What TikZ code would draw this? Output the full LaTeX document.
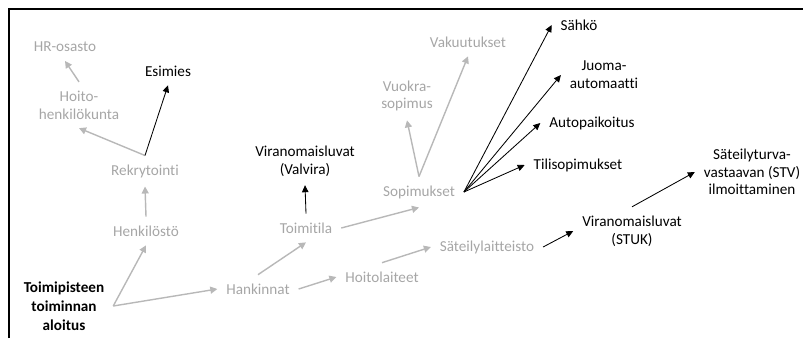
\documentclass[tikz,border=0pt]{standalone}
\usepackage{fontspec}
\setmainfont{Carlito}[Ligatures=NoCommon]
\usetikzlibrary{arrows.meta}
\definecolor{palecolor}{RGB}{166,166,166}
\definecolor{palelinecolor}{RGB}{184,184,184}

\begin{document}
\begin{tikzpicture}[
    x=0.025cm, y=-0.025cm,
    task/.style={inner sep=0pt, outer sep=6.4pt, align=center,
		font=\fontsize{10.8}{12.6}\selectfont},
    paletask/.style={task, text=palecolor},
    starttask/.style={task, font=\fontsize{10.8}{13.6}\selectfont\bfseries},
    palearrow/.style={-{Triangle[length=5pt,width=5pt]}, draw=palelinecolor, line width=1pt},
    darkarrow/.style={-{Triangle[length=5pt,width=4.6pt]}, line width=0.6pt}
    ]

\useasboundingbox (0,0) rectangle (803,338);
\draw[line width=1.3pt] (9,338) -- (9,9) -- (803,9);

\node[starttask] (aloitus) at (64,306) {Toimipisteen\\toiminnan\\aloitus};
\node[paletask] (henkilosto) at (146,231) {Henkilöstö};
\node[paletask] (rekrytointi) at (145,171) {Rekrytointi};
\node[paletask] (hoitohenk) at (79,105) {Hoito-\\henkilökunta};
\node[paletask] (hrosasto) at (65,47) {HR-osasto};
\node[task] (esimies) at (168,71) {Esimies};

\node[paletask] (hankinnat) at (258,289) {Hankinnat};
\node[paletask] (toimitila) at (306,228) {Toimitila};
\node[task] (valvira) at (305,161) {Viranomaisluvat\\(Valvira)};
\node[paletask] (hoitolaitteet) at (382,277) {Hoitolaiteet};
\node[paletask] (sateily) at (487,247) {Säteilylaitteisto};
\node[task] (stuk) at (632,231) {Viranomaisluvat\\(STUK)};
\node[task] (stv) at (752,172) {Säteilyturva-\\vastaavan (STV)\\ilmoittaminen};

\node[paletask] (sopimukset) at (419,192) {Sopimukset};
\node[paletask] (vuokra) at (407,96) {Vuokra-\\sopimus};
\node[paletask] (vakuutukset) at (468,42) {Vakuutukset};
\node[task] (sahko) at (579,25) {Sähkö};
\node[task] (juoma) at (604,75) {Juoma-\\automaatti};
\node[task] (autopaikka) at (592,123) {Autopaikoitus};
\node[task] (tili) at (578,165) {Tilisopimukset};

\draw[palearrow] (aloitus.east) -- (henkilosto.south);
\draw[palearrow] (aloitus.east) -- (hankinnat.west);
\draw[palearrow] (henkilosto.north) -- (rekrytointi.south);
\draw[palearrow] (rekrytointi.north) -- (hoitohenk.south);
\draw[darkarrow] (rekrytointi.north) -- (esimies.south);
\draw[palearrow] (hoitohenk.north) -- (hrosasto.south);

\draw[palearrow] (hankinnat.north) -- (toimitila.south);
\draw[palearrow] (hankinnat.east) -- (hoitolaitteet.west);
\draw[darkarrow] (toimitila.north) -- (valvira.south);
\draw[palearrow] (toimitila.east) -- (sopimukset.south);
\draw[palearrow] (hoitolaitteet.north) -- (sateily.west);
\draw[darkarrow] (sateily.east) -- (stuk.west);
\draw[darkarrow] (stuk.north) -- (stv.west);

\draw[palearrow] (sopimukset.north) -- (vuokra.south);
\draw[palearrow] (sopimukset.north) -- (vakuutukset.south);
\draw[darkarrow] (sopimukset.east) -- (sahko.west);
\draw[darkarrow] (sopimukset.east) -- (juoma.west);
\draw[darkarrow] (sopimukset.east) -- (autopaikka.west);
\draw[darkarrow] (sopimukset.east) -- (tili.west);

\end{tikzpicture}
\end{document}
